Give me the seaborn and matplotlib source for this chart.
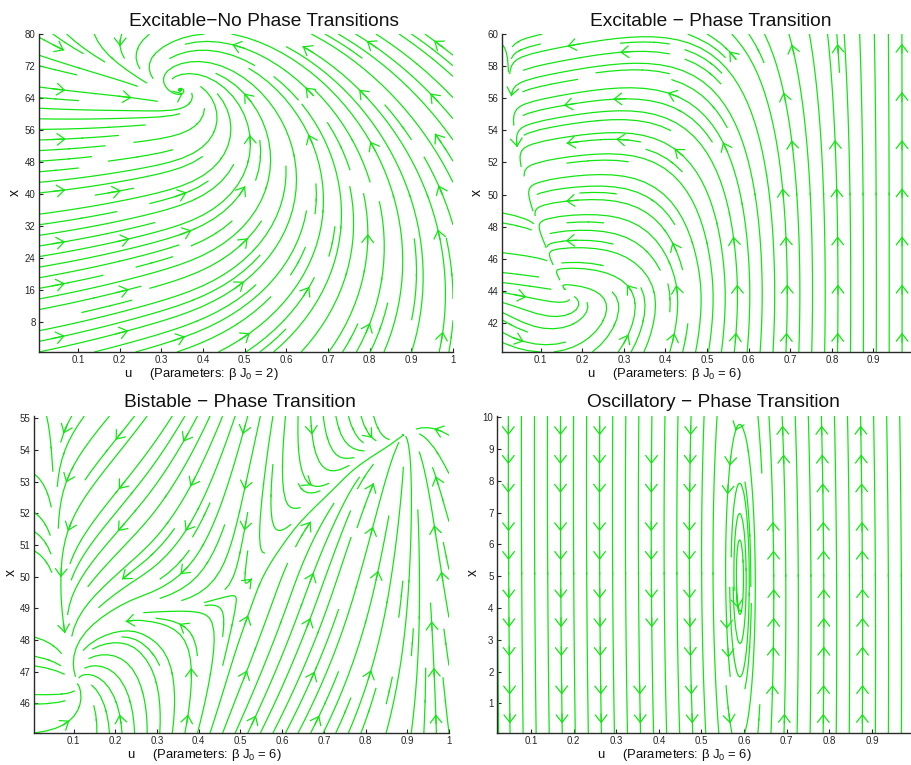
import numpy as np
import matplotlib
matplotlib.use("Agg")
import matplotlib.pyplot as plt
from matplotlib.patches import FancyArrowPatch
import seaborn as sns

sns.set_theme(style="white")
plt.rcParams["font.family"] = ["Liberation Sans", "DejaVu Sans"]
plt.rcParams["mathtext.fontset"] = "custom"
plt.rcParams["mathtext.rm"] = "Liberation Sans"
plt.rcParams["mathtext.it"] = "Liberation Sans:italic"

# ---- panel descriptions -------------------------------------------------
titles = ["Excitable\u2212No Phase Transitions",
          "Excitable \u2212 Phase Transition",
          "Bistable \u2212 Phase Transition",
          "Oscillatory \u2212 Phase Transition"]
beta_j0 = [2, 6, 6, 6]

u_limits = [(0.006, 1.0), (0.007, 1.0), (0.005, 1.0), (0.02, 1.0)]
x_limits = [(0.5, 80.0), (40.2, 60.0), (45.06, 55.07), (0.07, 10.04)]
u_ticks_full = [0.1, 0.2, 0.3, 0.4, 0.5, 0.6, 0.7, 0.8, 0.9, 1.0]
u_ticks_cut = [0.1, 0.2, 0.3, 0.4, 0.5, 0.6, 0.7, 0.8, 0.9]
u_ticks = [u_ticks_full, u_ticks_cut, u_ticks_full, u_ticks_cut]
x_ticks = [[8, 16, 24, 32, 40, 48, 56, 64, 72, 80],
           [42, 44, 46, 48, 50, 52, 54, 56, 58, 60],
           [46, 47, 48, 49, 50, 51, 52, 53, 54, 55],
           [1, 2, 3, 4, 5, 6, 7, 8, 9, 10]]

# equilibria (u, x) of each system
focus_excitable = (0.345, 66.0)
focus_excitable_pt = (0.15, 44.1)
equilibria_bistable = [(0.11, 46.6), (0.5, 49.5), (0.89, 54.45)]
center_oscillatory = (0.59, 5.0)

# x-nullcline of the bistable system, sampled along u
bistable_null_u = [0.0, 0.11, 0.26, 0.41, 0.5, 0.62, 0.75, 0.89, 1.0]
bistable_null_x = [46.1, 46.6, 48.75, 49.0, 49.5, 52.0, 53.7, 54.45, 55.0]

# where the direction chevrons sit (u columns, x rows)
arrow_u = [[0.05, 0.2, 0.35, 0.5, 0.65, 0.8, 0.96],
           [0.04, 0.17, 0.3, 0.43, 0.56, 0.69, 0.82, 0.97],
           [0.08, 0.22, 0.37, 0.52, 0.67, 0.82, 0.97],
           [0.055, 0.16, 0.265, 0.37, 0.47, 0.575, 0.68, 0.78, 0.885, 0.99]]
arrow_x = [[5, 17, 29, 41, 53, 65, 77],
           [41, 44, 47, 50, 53, 56, 59],
           [45.5, 47, 48.5, 50, 51.5, 53, 54.5],
           [0.45, 1.48, 2.51, 3.54, 4.57, 5.6, 6.63, 7.66, 8.69, 9.72]]

# axes rectangles in pixels: left, top, right, bottom
axes_px = [(39, 34, 453, 352), (502, 34, 915, 352),
           (34, 416, 449, 733), (497, 416, 914.5, 733)]
title_px = [(264, 26), (711, 26), (240, 407), (713, 407)]
ulabel_px = [(124, 377), (587, 377), (127, 758), (597, 758)]
xlabel_px = [(15, 193), (477, 193), (11, 573), (473, 573)]

W_PX, H_PX = 912, 765
LINE_GREEN = "#12e612"


def sigmoid(z):
    return 1.0 / (1.0 + np.exp(-z))


# ---- vector fields ------------------------------------------------------
def field_excitable(U, X, lim_u, lim_x):
    su, sx = lim_u[1] - lim_u[0], lim_x[1] - lim_x[0]
    S = (U - focus_excitable[0]) / su
    T = (X - focus_excitable[1]) / sx
    a, e, d = 1.0, 1.0, 0.45
    c_left, c_right = 0.15, 1.3
    c = c_left + (c_right - c_left) * sigmoid(S / 0.05)
    r = np.sqrt(S ** 2 + T ** 2)
    swirl = 0.06 / (r + 0.02) * np.exp(-r / 0.05)
    dS = -a * S - e * T - swirl * T
    dT = c * S - d * T + swirl * S
    return dS * su, dT * sx


def field_excitable_pt(U, X, lim_u, lim_x):
    su, sx = lim_u[1] - lim_u[0], lim_x[1] - lim_x[0]
    s = (U - lim_u[0]) / su
    t = (X - lim_x[0]) / sx
    t_f = (focus_excitable_pt[1] - lim_x[0]) / sx
    branch = 0.035 + 0.115 * np.clip((0.92 - t) / 0.72, 0, None) ** 2
    s_f = 0.035 + 0.115 * ((0.92 - t_f) / 0.72) ** 2
    null_x = s_f + 0.2 * (t - t_f) / (1 - t_f)
    above = sigmoid((t - t_f) / 0.03)
    D = s - branch
    gate = 1 - above * (1 - sigmoid(D / 0.02))
    omega, K, w, c = 1.0, 10.0, 0.07, 1.0
    dS = (-omega * (t - t_f) * (1 - s) ** 2 * gate
          - K * D * above * np.exp(-np.clip(D, 0, None) / w))
    dT = c * (s - null_x)
    return dS * su, dT * sx


def field_bistable(U, X, lim_u, lim_x):
    su, sx = lim_u[1] - lim_u[0], lim_x[1] - lim_x[0]
    x_mid = equilibria_bistable[1][1]
    gain_lo = 0.25 / (x_mid - equilibria_bistable[0][1])
    gain_hi = 0.25 / (equilibria_bistable[2][1] - x_mid)
    h = np.where(X < x_mid, -gain_lo * (X - x_mid), -gain_hi * (X - x_mid))
    F = sigmoid(6.0 * (U - 0.5) + h) - U
    s = (U - lim_u[0]) / su
    k = 1.1 + 9.4 * np.exp(-s / 0.109)
    gap = np.interp(U, bistable_null_u, bistable_null_x) - X
    dS = k * F
    dT = 4.0 * np.tanh(gap / 4.0) / sx
    return dS * su, dT * sx


def field_oscillatory(U, X, lim_u, lim_x):
    a, b, c = 5.3e-4, 0.004, 10.0
    du = -a * (X - center_oscillatory[1]) - b * (U - center_oscillatory[0])
    dx = c * (U - center_oscillatory[0])
    return du, dx


fields = [field_excitable, field_excitable_pt, field_bistable, field_oscillatory]
densities = [1.05, 1.1, 1.15, (1.1, 1.0)]
# seeds, lengths and chevron heights for the nested orbits of the oscillator
loop_seeds = [(0.566, 5.0), (0.574, 5.0), (0.581, 5.0)]
loop_lengths = [1.2, 0.9, 0.6]
loop_arrow_x = [2.6, 7.0, 4.2]


def stream_pieces(stream):
    """Split every streamline polyline into consecutive point pairs."""
    starts, ends = [], []
    for poly in stream.lines.get_segments():
        poly = np.asarray(poly, dtype=float)
        if len(poly) < 2:
            continue
        starts.append(poly[:-1])
        ends.append(poly[1:])
    if not starts:
        return np.empty((0, 2)), np.empty((0, 2))
    return np.vstack(starts), np.vstack(ends)


def add_arrow_grid(ax, stream, cols, rows, tol_px=7.0):
    p0s, p1s = stream_pieces(stream)
    if len(p0s) == 0:
        return
    mids_px = ax.transData.transform(0.5 * (p0s + p1s))
    for cu in cols:
        for rx in rows:
            anchor = ax.transData.transform((cu, rx))
            dist = np.hypot(mids_px[:, 0] - anchor[0], mids_px[:, 1] - anchor[1])
            j = int(np.argmin(dist))
            if dist[j] > tol_px:
                continue
            p0, p1 = p0s[j], p1s[j]
            if np.allclose(p0, p1):
                continue
            ax.add_patch(FancyArrowPatch(
                tuple(p0), tuple(p1),
                arrowstyle="->,head_length=0.45,head_width=0.35",
                mutation_scale=12, color=LINE_GREEN, lw=0.9,
                shrinkA=0, shrinkB=0, zorder=3))


fig = plt.figure(figsize=(W_PX / 100, H_PX / 100), dpi=100)
fig.patch.set_facecolor("white")

for i in range(4):
    l, t_, r, b = axes_px[i]
    ax = fig.add_axes([l / W_PX, 1 - b / H_PX, (r - l) / W_PX, (b - t_) / H_PX])
    ax.set_facecolor("white")
    lu, lx = u_limits[i], x_limits[i]
    ax.set_xlim(*lu)
    ax.set_ylim(*lx)
    uu = np.linspace(lu[0], lu[1], 240)
    xx = np.linspace(lx[0], lx[1], 240)
    U, X = np.meshgrid(uu, xx)
    dU, dX = fields[i](U, X, lu, lx)
    sp = ax.streamplot(uu, xx, dU, dX, density=densities[i], color=LINE_GREEN,
                       linewidth=0.9, arrowstyle="-", minlength=0.07)
    ax.set_xlim(*lu)
    ax.set_ylim(*lx)
    add_arrow_grid(ax, sp, arrow_u[i], arrow_x[i])
    if i == 3:
        for seed, length, ax_row in zip(loop_seeds, loop_lengths, loop_arrow_x):
            sp2 = ax.streamplot(uu, xx, dU, dX, start_points=[seed],
                                color=LINE_GREEN, linewidth=0.9, arrowstyle="-",
                                broken_streamlines=False, maxlength=length,
                                integration_direction="forward")
            ax.set_xlim(*lu)
            ax.set_ylim(*lx)
            add_arrow_grid(ax, sp2, [seed[0]], [ax_row], tol_px=4)
    ax.set_xticks(u_ticks[i])
    ax.set_yticks(x_ticks[i])
    ax.set_xticklabels([f"{v:g}" for v in u_ticks[i]])
    ax.set_yticklabels([f"{v:g}" for v in x_ticks[i]])
    ax.tick_params(direction="in", length=3, width=0.8, labelsize=7,
                   pad=2.5, colors="#262626", bottom=True, left=True)
    sns.despine(ax=ax, top=True, right=True)
    for side in ("left", "bottom"):
        ax.spines[side].set_color("#2a2a2a")
        ax.spines[side].set_linewidth(1.0)
    ax.grid(False)

    tx, ty = title_px[i]
    fig.text(tx / W_PX, 1 - ty / H_PX, titles[i], ha="center", va="baseline",
             fontsize=13.8, color="#111111")
    ux, uy = ulabel_px[i]
    fig.text(ux / W_PX, 1 - uy / H_PX,
             "u     (Parameters: \u03b2 J$_0$ = %d)" % beta_j0[i],
             ha="left", va="baseline", fontsize=9.4, color="#111111")
    yx, yy = xlabel_px[i]
    fig.text(yx / W_PX, 1 - yy / H_PX, "x", rotation=90, ha="center",
             va="center", fontsize=10, color="#111111")

fig.savefig("out.png", dpi=100, facecolor="white")
